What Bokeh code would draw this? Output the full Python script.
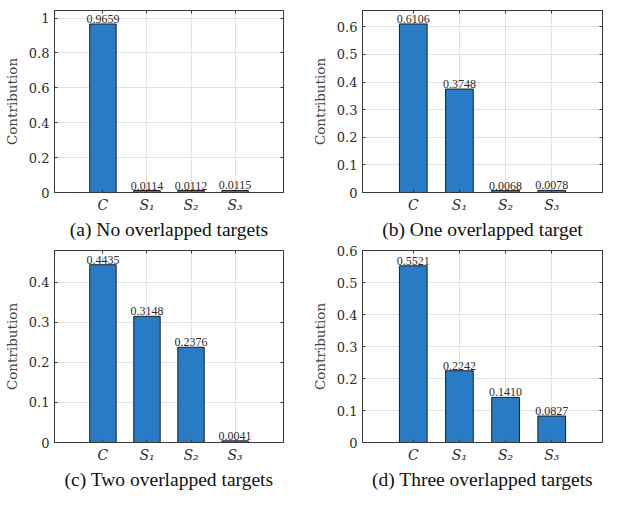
from bokeh.plotting import figure
from bokeh.models import Range1d, FixedTicker, LinearAxis, Title, PrintfTickFormatter, ColumnDataSource
from bokeh.layouts import column, row
from bokeh.embed import file_html
from bokeh.resources import INLINE
from bokeh.core.properties import value

# ---- data ----
categories = ["C", "S\u2081", "S\u2082", "S\u2083"]
positions = [1, 2, 3, 4]
vals_a = [0.9659, 0.0114, 0.0112, 0.0115]
vals_b = [0.6106, 0.3748, 0.0068, 0.0078]
vals_c = [0.4435, 0.3148, 0.2376, 0.0041]
vals_d = [0.5521, 0.2242, 0.1410, 0.0827]
yticks_a = [0, 0.2, 0.4, 0.6, 0.8, 1]
yticks_b = [0, 0.1, 0.2, 0.3, 0.4, 0.5, 0.6]
yticks_c = [0, 0.1, 0.2, 0.3, 0.4]
yticks_d = [0, 0.1, 0.2, 0.3, 0.4, 0.5, 0.6]
ymax_a, ymax_b, ymax_c, ymax_d = 1.0432, 0.6594, 0.479, 0.6
captions = ["(a) No overlapped targets", "(b) One overlapped target",
            "(c) Two overlapped targets", "(d) Three overlapped targets"]

FONT = "Liberation Serif"
AXFONT = "DejaVu Serif"
BAR = "#2a7bc6"
AX = "#3a3a3a"
TXT = "#2b2b2b"


def panel(vals, yticks, ymax, caption, width, left, right, height, top):
    p = figure(width=width, height=height, x_range=Range1d(-0.1, 5.1),
               y_range=Range1d(0, ymax), output_backend="svg",
               toolbar_location=None, min_border_left=left,
               min_border_right=right, min_border_top=top,
               min_border_bottom=10)
    src = ColumnDataSource(dict(x=positions, top=vals,
                                lab=["%.4f" % v for v in vals]))
    p.vbar(x="x", top="top", width=0.6, source=src, fill_color=BAR,
           line_color="#1f1f1f", line_width=1)
    p.text(x="x", y="top", text="lab", source=src, text_align="center",
           text_baseline="bottom", y_offset=-1, text_font=value(FONT),
           text_font_size="12px", text_color=TXT)

    p.xaxis.ticker = FixedTicker(ticks=positions)
    p.xaxis.major_label_overrides = dict(zip(positions, categories))
    p.xaxis.major_label_text_font_style = "italic"
    p.yaxis.ticker = FixedTicker(ticks=yticks)
    p.yaxis.formatter = PrintfTickFormatter(format="%g")
    p.yaxis.axis_label = "Contribution"
    p.axis.major_tick_in = 3
    p.axis.major_tick_out = 0
    p.axis.minor_tick_line_color = None
    p.axis.axis_line_color = AX
    p.axis.major_tick_line_color = AX
    p.axis.major_label_text_font = AXFONT
    p.axis.major_label_text_color = TXT
    p.xaxis.major_label_text_font_size = "14px"
    p.yaxis.major_label_text_font_size = "13px"
    p.yaxis.axis_label_text_font = AXFONT
    p.yaxis.axis_label_text_font_size = "13.5px"
    p.yaxis.axis_label_text_font_style = "normal"
    p.yaxis.axis_label_text_color = "#444444"
    p.xaxis.major_label_standoff = 4
    p.yaxis.major_label_standoff = 5
    p.yaxis.axis_label_standoff = 6

    # box ticks on top and right
    top_ax = LinearAxis(ticker=FixedTicker(ticks=positions),
                        major_label_overrides={t: "" for t in positions})
    right_ax = LinearAxis(ticker=FixedTicker(ticks=yticks),
                          major_label_overrides={t: "" for t in yticks})
    for ax in (top_ax, right_ax):
        ax.major_tick_in = 3
        ax.major_tick_out = 0
        ax.minor_tick_line_color = None
        ax.axis_line_color = AX
        ax.major_tick_line_color = AX
        ax.major_label_standoff = 0
        ax.major_label_text_font_size = "1px"
    p.add_layout(top_ax, "above")
    p.add_layout(right_ax, "right")

    p.xgrid.ticker = FixedTicker(ticks=positions)
    p.ygrid.ticker = FixedTicker(ticks=yticks)
    p.grid.grid_line_color = "#e3e3e3"
    p.grid.grid_line_width = 1
    p.outline_line_color = AX

    p.add_layout(Title(text=caption, align="center", text_font=FONT,
                       text_font_size="19.5px", text_font_style="normal",
                       text_color="#111111", standoff=2), "below")
    return p


pa = panel(vals_a, yticks_a, ymax_a, captions[0], 300, 43, 17, 240, 10)
pb = panel(vals_b, yticks_b, ymax_b, captions[1], 303, 62, 1, 240, 10)
pc = panel(vals_c, yticks_c, ymax_c, captions[2], 300, 43, 17, 250, 10)
pd = panel(vals_d, yticks_d, ymax_d, captions[3], 303, 62, 1, 250, 10)

layout = column(row(pa, pb), row(pc, pd))
open("out.html", "w").write(file_html(layout, INLINE))
